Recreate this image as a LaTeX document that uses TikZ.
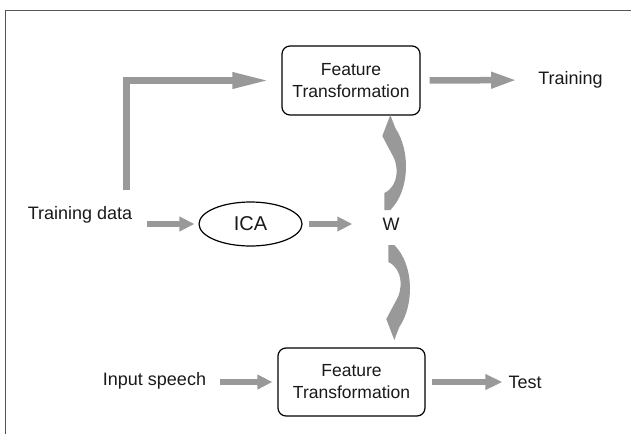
\documentclass[tikz,border=0pt]{standalone}
\usepackage{fontspec}
\setmainfont{Liberation Sans}
\usetikzlibrary{arrows.meta,shapes.geometric,calc}
\definecolor{arrowgray}{RGB}{153,153,153}
\definecolor{framegray}{RGB}{85,85,85}
\tikzset{
  lbl/.style={font=\fontsize{18}{22}\selectfont, inner sep=0pt, text=black!90},
  ftbox/.style={draw, line width=1.2pt, rounded corners=8pt, align=center,
    font=\fontsize{17.5}{22}\selectfont, inner sep=0pt, text=black!90},
  flow/.style={draw=arrowgray, line width=6.5pt, line join=miter,
    -{Triangle[length=15pt,width=14pt]}},
  longflow/.style={flow, -{Triangle[length=#1,width=15pt]}},
  bendarrow/.pic={
    \fill[arrowgray] (0,0) -- (0,-17) .. controls (15,-24) and (15,-45) .. (7,-57)
      -- (-2,-74) -- (6,-95) -- (11,-82) .. controls (26,-60) and (26,-20) .. (6,0) -- cycle;
  }
}
\begin{document}
\begin{tikzpicture}[x=1pt,y=-1pt]
\useasboundingbox (0,0) rectangle (631,434);

% frame (top and left edges only)
\draw[framegray, line width=1.5pt] (5.5,434) -- (5.5,10.5) -- (631,10.5);

% nodes
\node[ftbox, minimum width=138pt, minimum height=69pt] (ft1) at (351,80.5) {Feature\\Transformation};
\node[ftbox, minimum width=147pt, minimum height=68pt] (ft2) at (351.5,382) {Feature\\Transformation};
\node[draw, ellipse, line width=1.2pt, minimum width=103pt, minimum height=44pt, inner sep=0pt,
  font=\fontsize{20}{24}\selectfont, text=black!90] (ica) at (250.5,224) {ICA};
\node[lbl] (w) at (391,224) {W};
\node[lbl] (tdata) at (80,215) {Training data};
\node[lbl] (training) at (570.5,80) {Training};
\node[lbl] (input) at (154.5,381) {Input speech};
\node[lbl] (test) at (525,382) {Test};
\coordinate (lstart) at (126.5,190);

% straight flows
\draw[flow, shorten <=15pt, shorten >=4pt] (tdata.east |- ica.west) -- (ica.west);
\draw[flow, shorten <=6pt, shorten >=30pt] (ica.east) -- (w.west |- ica.east);
\draw[longflow=37pt, shorten >=12pt] (lstart) |- (ft1.west);
\draw[longflow=26pt, shorten <=9pt, shorten >=21pt] (ft1.east) -- (training.west);
\draw[flow, shorten <=14pt, shorten >=5pt] (input.east |- ft2.west) -- (ft2.west);
\draw[longflow=17pt, shorten <=6pt, shorten >=6pt] (ft2.east) -- (test.west |- ft2.east);

% curved flows from W
\coordinate (upbase) at ($(w.west)+(2,-14)$);
\coordinate (downbase) at ($(w.west)+(6,21)$);
\pic at (upbase) {bendarrow};
\pic[yscale=-1] at (downbase) {bendarrow};
\end{tikzpicture}
\end{document}
